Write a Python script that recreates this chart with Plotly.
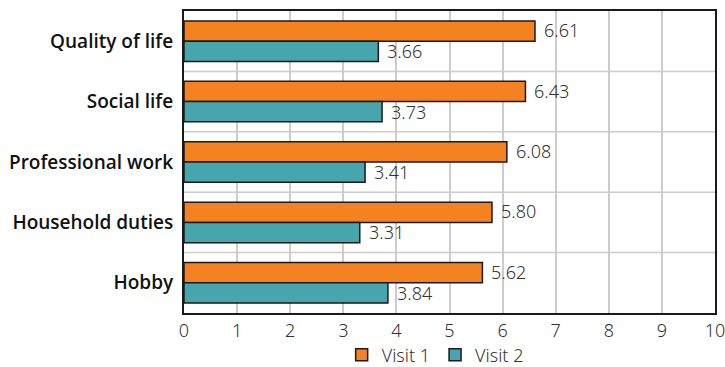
import plotly.graph_objects as go

categories = ["Quality of life", "Social life", "Professional work", "Household duties", "Hobby"]
visit1 = [6.61, 6.43, 6.08, 5.80, 5.62]
visit2 = [3.66, 3.73, 3.41, 3.31, 3.84]
x_ticks = list(range(0, 11))

ORANGE = "#f58220"
TEAL = "#47a5ad"
FONT = "Noto Sans"
LIGHT = dict(family=FONT, size=18, color="#333333", weight=300)

fig = go.Figure()
fig.add_trace(go.Bar(
    y=categories, x=visit1, orientation="h", name="Visit 1",
    marker=dict(color=ORANGE, line=dict(color="#1a1a1a", width=1.5)),
))
fig.add_trace(go.Bar(
    y=categories, x=visit2, orientation="h", name="Visit 2",
    marker=dict(color=TEAL, line=dict(color="#1a1a1a", width=1.5)),
))

# value labels just right of each bar end
annotations = []
for i, cat in enumerate(categories):
    for val, yshift in ((visit1[i], 11), (visit2[i], -10)):
        annotations.append(dict(
            x=val, y=i, xref="x", yref="y", text=f"{val:.2f}",
            xanchor="left", yanchor="middle", xshift=7, yshift=yshift,
            showarrow=False, font=LIGHT,
        ))

# horizontal separators between category bands
shapes = []
for i in range(len(categories) - 1):
    shapes.append(dict(
        type="line", xref="paper", x0=0, x1=1, yref="y", y0=i + 0.5, y1=i + 0.5,
        line=dict(color="#cccccc", width=1.5), layer="below",
    ))

fig.update_layout(
    width=725, height=367,
    margin=dict(l=184, r=10, t=11, b=54, autoexpand=False),
    paper_bgcolor="white", plot_bgcolor="white",
    barmode="group", bargap=0.33, bargroupgap=0,
    font=dict(family=FONT, size=16, color="#222222"),
    annotations=annotations, shapes=shapes,
    showlegend=True,
    legend=dict(orientation="h", x=0.473, xanchor="center",
                yref="container", y=12 / 367, yanchor="middle",
                font=LIGHT, itemwidth=30, traceorder="normal"),
    xaxis=dict(range=[0, 10], tickvals=x_ticks, ticktext=[str(t) for t in x_ticks],
               showgrid=True, gridcolor="#cccccc", gridwidth=1.5,
               showline=True, linecolor="#1a1a1a", linewidth=2, mirror=True,
               ticks="", zeroline=False, automargin=False,
               ticklabeloverflow="allow", tickfont=LIGHT),
    yaxis=dict(autorange="reversed", showgrid=False, automargin=False,
               showline=True, linecolor="#1a1a1a", linewidth=2, mirror=True,
               ticks="", ticklabelstandoff=5,
               tickfont=dict(family="Open Sans", size=19, color="#111111", weight=600)),
)

fig.write_html("out.html")
